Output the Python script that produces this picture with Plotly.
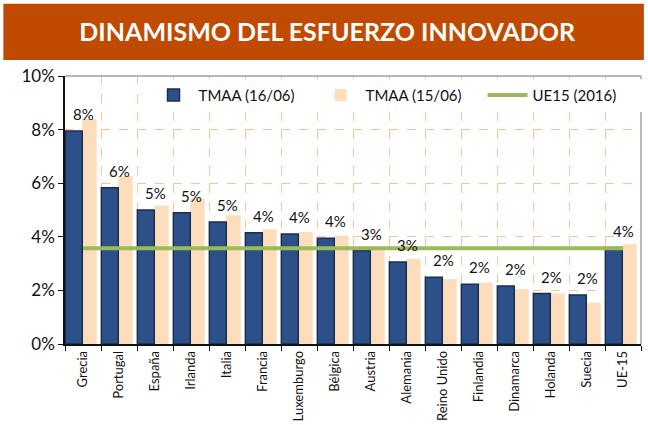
import plotly.graph_objects as go

categories = ["Grecia", "Portugal", "España", "Irlanda", "Italia", "Francia", "Luxemburgo",
              "Bélgica", "Austria", "Alemania", "Reino Unido", "Finlandia", "Dinamarca",
              "Holanda", "Suecia", "UE-15"]
tmaa_16_06 = [7.95, 5.83, 5.0, 4.9, 4.55, 4.15, 4.1, 3.95, 3.48, 3.06, 2.49, 2.23, 2.16, 1.88, 1.83, 3.6]
tmaa_15_06 = [8.4, 6.27, 5.17, 5.42, 4.8, 4.28, 4.18, 4.04, 3.63, 3.18, 2.43, 2.29, 2.05, 1.89, 1.54, 3.72]
ue15_2016 = [3.57] * len(categories)
labels = [f"{round(v):d}%" for v in tmaa_16_06]
y_ticks = [0, 2, 4, 6, 8, 10]
y_tick_text = ["0%", "2%", "4%", "6%", "8%", "10%"]

FONT = "Lato, 'DejaVu Sans', sans-serif"

fig = go.Figure()
fig.add_trace(go.Bar(
    x=categories, y=tmaa_15_06, name="TMAA (15/06)",
    marker=dict(color="#FCDDBC", line=dict(width=0)),
    offset=-0.02, width=0.40, legendrank=2,
))
fig.add_trace(go.Bar(
    x=categories, y=tmaa_16_06, name="TMAA (16/06)",
    marker=dict(color="#2C5088", line=dict(color="#1A2E52", width=1.5)),
    offset=-0.49, width=0.47, legendrank=1,
))
fig.add_trace(go.Scatter(
    x=categories, y=ue15_2016, name="UE15 (2016)", mode="lines",
    line=dict(color="#9BBB59", width=4), legendrank=3,
))

annotations = [
    dict(x=c, y=v, text=t, xref="x", yref="y", showarrow=False,
         yanchor="bottom", yshift=6, font=dict(size=15, color="#111", family=FONT))
    for c, v, t in zip(categories, tmaa_16_06, labels)
]

fig.update_layout(
    width=648, height=425,
    margin=dict(l=65, r=7, t=76, b=81, autoexpand=False),
    paper_bgcolor="white", plot_bgcolor="white",
    barmode="overlay",
    font=dict(family=FONT, color="#111"),
    title=dict(text="<b>DINAMISMO DEL ESFUERZO INNOVADOR</b>",
               font=dict(size=25, color="white", family=FONT),
               x=0.505, xanchor="center", xref="container",
               y=0.925, yanchor="middle"),
    legend=dict(orientation="h", x=0.145, xanchor="left", y=0.99, yanchor="top",
                bgcolor="white", font=dict(size=15, family=FONT),
                traceorder="normal", itemwidth=40, entrywidth=112),
    annotations=annotations,
    shapes=[
        dict(type="rect", xref="paper", yref="paper", x0=-0.107, x1=1.005, y0=1.06, y1=1.27,
             fillcolor="#C04B00", line=dict(width=0), layer="below"),
        dict(type="line", xref="paper", yref="paper", x0=0, x1=1, y0=1, y1=1,
             line=dict(color="#A0A0A0", width=1.5)),
        dict(type="line", xref="paper", yref="paper", x0=1, x1=1, y0=0, y1=1,
             line=dict(color="#A0A0A0", width=1.5)),
    ],
)
fig.update_xaxes(
    type="category", tickson="boundaries", tickangle=-90, automargin=False,
    tickfont=dict(size=13, family=FONT),
    showline=True, linecolor="#111", linewidth=1.5,
    ticks="outside", ticklen=5, tickcolor="#111",
    showgrid=True, gridcolor="#F8C497", griddash="dash", gridwidth=1,
    range=[-0.5, 15.5],
)
fig.update_yaxes(
    range=[0, 10], tickvals=y_ticks, ticktext=y_tick_text, automargin=False,
    tickfont=dict(size=17, family=FONT),
    showline=True, linecolor="#111", linewidth=1.5,
    ticks="outside", ticklen=5, tickcolor="#111",
    showgrid=True, gridcolor="#F8C497", griddash="dash", gridwidth=1,
    zeroline=False,
)

fig.write_html("out.html", config={"displayModeBar": False},
               post_script="document.body.style.margin='0';")
